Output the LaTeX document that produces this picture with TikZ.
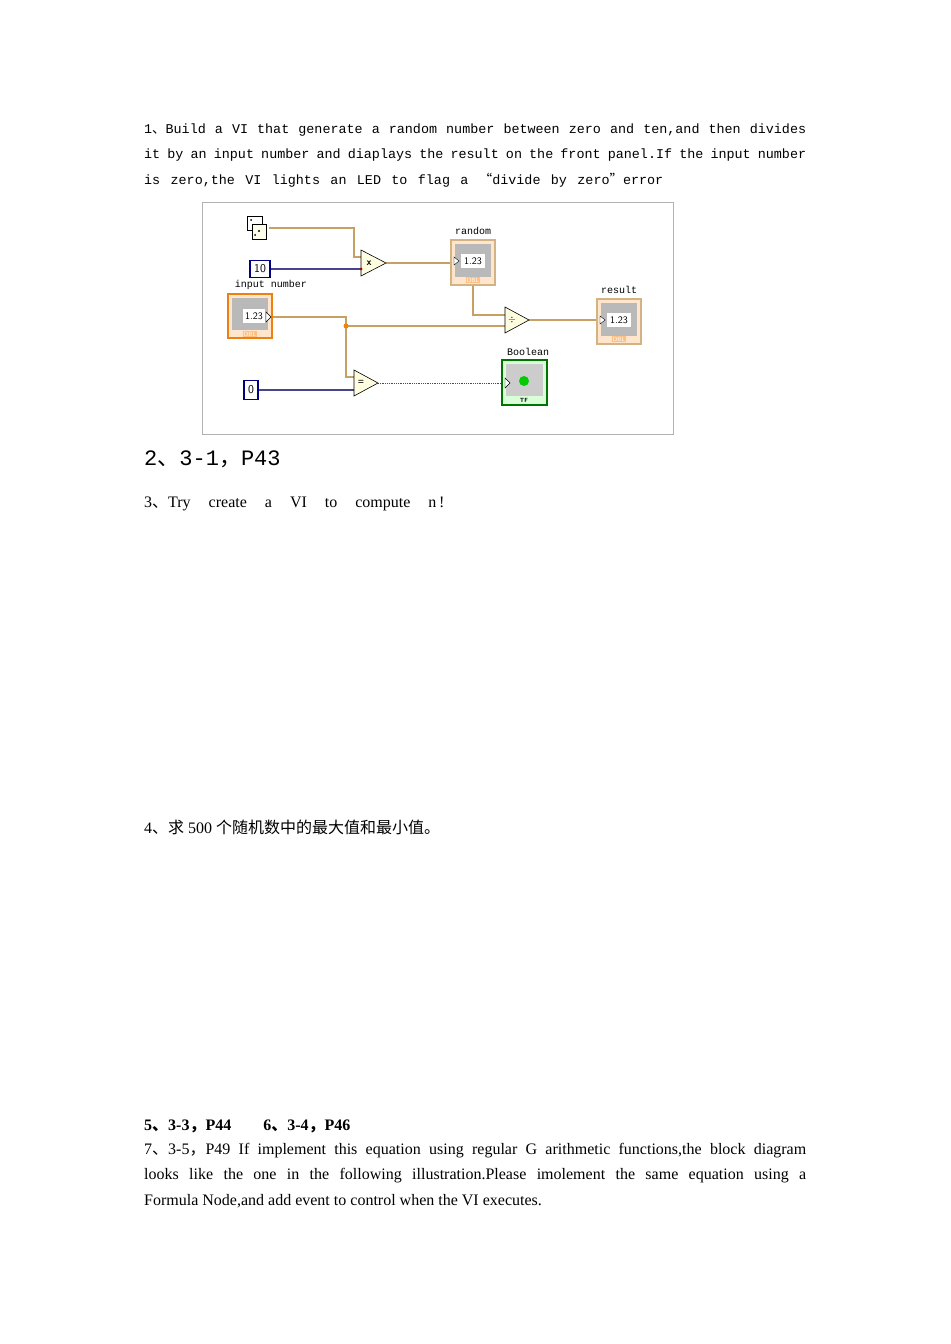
\documentclass[tikz,border=0pt]{standalone}
\usepackage{fontspec}
\setmainfont{Liberation Serif}
\newfontfamily\mono[WordSpace={1,3,0.5}]{Liberation Mono}
\newfontfamily\cjk{Noto Sans CJK SC}
\definecolor{tan}{RGB}{200,160,100}
\definecolor{bwire}{RGB}{70,70,140}
\begin{document}
\begin{tikzpicture}[x=1bp,y=-1bp,
  wire/.style={draw=#1,line width=1.3bp},
  tri/.style={draw=black,fill=yellow!12,line width=0.6bp},
  lbl/.style={font=\mono\fontsize{10bp}{11bp}\selectfont,inner sep=0},
  ind/.style={draw=tan!80,fill=orange!20,line width=1.5bp},
  konst/.style={draw=blue!50!black,fill=white,line width=1.6bp,inner sep=1.5bp,font=\sffamily\fontsize{12bp}{13bp}\selectfont},
  txt/.style={anchor=west,inner sep=0}]
\useasboundingbox (0,0) rectangle (950,1344);
% text
\node[txt] (l1) at (144,130) {\mono\fontsize{13.4bp}{15bp}\selectfont\makebox[662bp][s]{1{\cjk 、}Build a VI that generate a random number between zero and ten,and then divides}};
\node[txt] (l2) at (144,155) {\mono\fontsize{13.4bp}{15bp}\selectfont\makebox[662bp][s]{it by an input number and diaplays the result on the front panel.If the input number}};
\node[txt] (l3) at (144,180) {\mono\fontsize{13.4bp}{15bp}\selectfont\makebox[519bp][s]{is zero,the VI lights an LED to flag a {\cjk “}divide by zero{\cjk ”}error}};
\node[txt] (h2) at (144,459) {\mono\fontsize{22bp}{24bp}\selectfont 2{\cjk 、}3-1{\cjk ，}P43};
\node[txt] (h3) at (144,504) {\fontsize{16bp}{18bp}\selectfont 3{\cjk 、}Try\hspace{18bp}create\hspace{18bp}a\hspace{18bp}VI\hspace{18bp}to\hspace{18bp}compute\hspace{18bp}n\,!};
\node[txt] (h4) at (144,827) {\fontsize{16bp}{18bp}\selectfont 4{\cjk 、求} 500 {\cjk 个随机数中的最大值和最小值。}};
\node[txt] (h5) at (144,1126) {\fontsize{16bp}{18bp}\selectfont\bfseries 5{\cjk 、}3-3{\cjk ，}P44\hspace{32bp}6{\cjk 、}3-4{\cjk ，}P46};
\node[txt] (h7a) at (144,1151) {\fontsize{16bp}{18bp}\selectfont\makebox[662bp][s]{7{\cjk 、}3-5{\cjk ，}P49 If implement this equation using regular G arithmetic functions,the block diagram}};
\node[txt] (h7b) at (144,1176) {\fontsize{16bp}{18bp}\selectfont\makebox[662bp][s]{looks like the one in the following illustration.Please imolement the same equation using a}};
\node[txt] (h7c) at (144,1201) {\fontsize{16bp}{18bp}\selectfont Formula Node,and add event to control when the VI executes.};
% frame
\draw[gray!60,line width=0.8bp] (202,202) rectangle (673,434);
\coordinate (j) at (346,326);
% wires
\draw[wire=tan] (269,228) -| (354,257) -- (361,257);
\draw[wire=bwire] (270,269) -- (361,269);
\draw[wire=tan] (386,263) -- (453,263);
\draw[wire=tan] (473,284) |- (505,315);
\draw[wire=tan] (272,317) -| (j) -- (505,326);
\draw[wire=tan] (j) |- (354,377);
\draw[wire=bwire] (259,390) -- (354,390);
\draw[wire=tan] (529,320) -- (599,320);
\draw[black!70,densely dotted,line width=0.8bp] (378,383) -- (505,383);
\fill[orange!80!brown] (j) circle (2.5bp);
% dice
\draw[fill=white] (247,216) rectangle (262,230);
\draw[fill=yellow!8] (252,224) rectangle (266,239);
\fill (259,231) circle (1.2bp);\fill (255,235) circle (1bp);\fill (251,220) circle (1bp);
\node[konst,minimum width=20bp,minimum height=17bp] (k10) at (260,269) {10};
\node[konst,minimum width=14bp,minimum height=19bp] (k0) at (251,390) {0};
% triangles
\draw[tri] (361,250) -- (386,263) -- (361,276) -- cycle;
\node[font=\bfseries\sffamily\fontsize{10bp}{10bp}\selectfont] (mul) at (369,263) {x};
\draw[tri] (505,307) -- (529,320) -- (505,333) -- cycle;
\node[font=\bfseries\fontsize{10bp}{10bp}\selectfont] (dv) at (512,320) {$\div$};
\draw[tri] (354,370) -- (378,383) -- (354,396) -- cycle;
\node[font=\bfseries\fontsize{11bp}{11bp}\selectfont] (eq) at (361,383) {=};
\fill[red!70!black] (361,269) circle (1.5bp);
% indicators
\foreach \n/\x/\y/\t/\lx in {random/451/240/random/473, result/597/299/result/619}{
  \draw[ind] (\x,\y) rectangle ++(44,45);
  \fill[gray!55] (\x+4,\y+4) rectangle ++(36,33);
  \fill[white] (\x+10,\y+14) rectangle ++(24,14);
  \node[font=\sffamily\fontsize{10bp}{10bp}\selectfont,inner sep=0] at (\x+22,\y+21) {1.23};
  \draw[fill=white] (\x+3,\y+17) -- (\x+8,\y+21) -- (\x+3,\y+25) -- cycle;
  \node[font=\sffamily\fontsize{6bp}{6bp}\selectfont,text=white,inner sep=0.5bp,fill=orange!50] at (\x+22,\y+40) {DBL};
  \node[lbl] (\n) at (\lx,\y-9) {\t};
}
\draw[ind,draw=orange!70!brown] (228,294) rectangle (272,338);
\fill[gray!55] (232,298) rectangle (268,330);
\fill[white] (243,309) rectangle (265,323);
\node[font=\sffamily\fontsize{10bp}{10bp}\selectfont,inner sep=0] at (254,316) {1.23};
\draw[fill=white] (266,312) -- (271,317) -- (266,322) -- cycle;
\node[font=\sffamily\fontsize{6bp}{6bp}\selectfont,text=white,inner sep=0.5bp,fill=orange!50] at (250,334) {DBL};
\node[lbl] (inp) at (271,285) {input number};
% boolean
\draw[draw=green!45!black,fill=green!15,line width=1.5bp] (502,360) rectangle (547,405);
\fill[gray!40] (506,364) rectangle (543,396);
\fill[green!80!black] (524,381) circle (5bp);
\draw[fill=white] (505,378) -- (510,383) -- (505,388) -- cycle;
\node[font=\sffamily\bfseries\fontsize{6bp}{6bp}\selectfont,inner sep=0] at (524,400) {TF};
\node[lbl] (bool) at (528,352) {Boolean};
\end{tikzpicture}
\end{document}
